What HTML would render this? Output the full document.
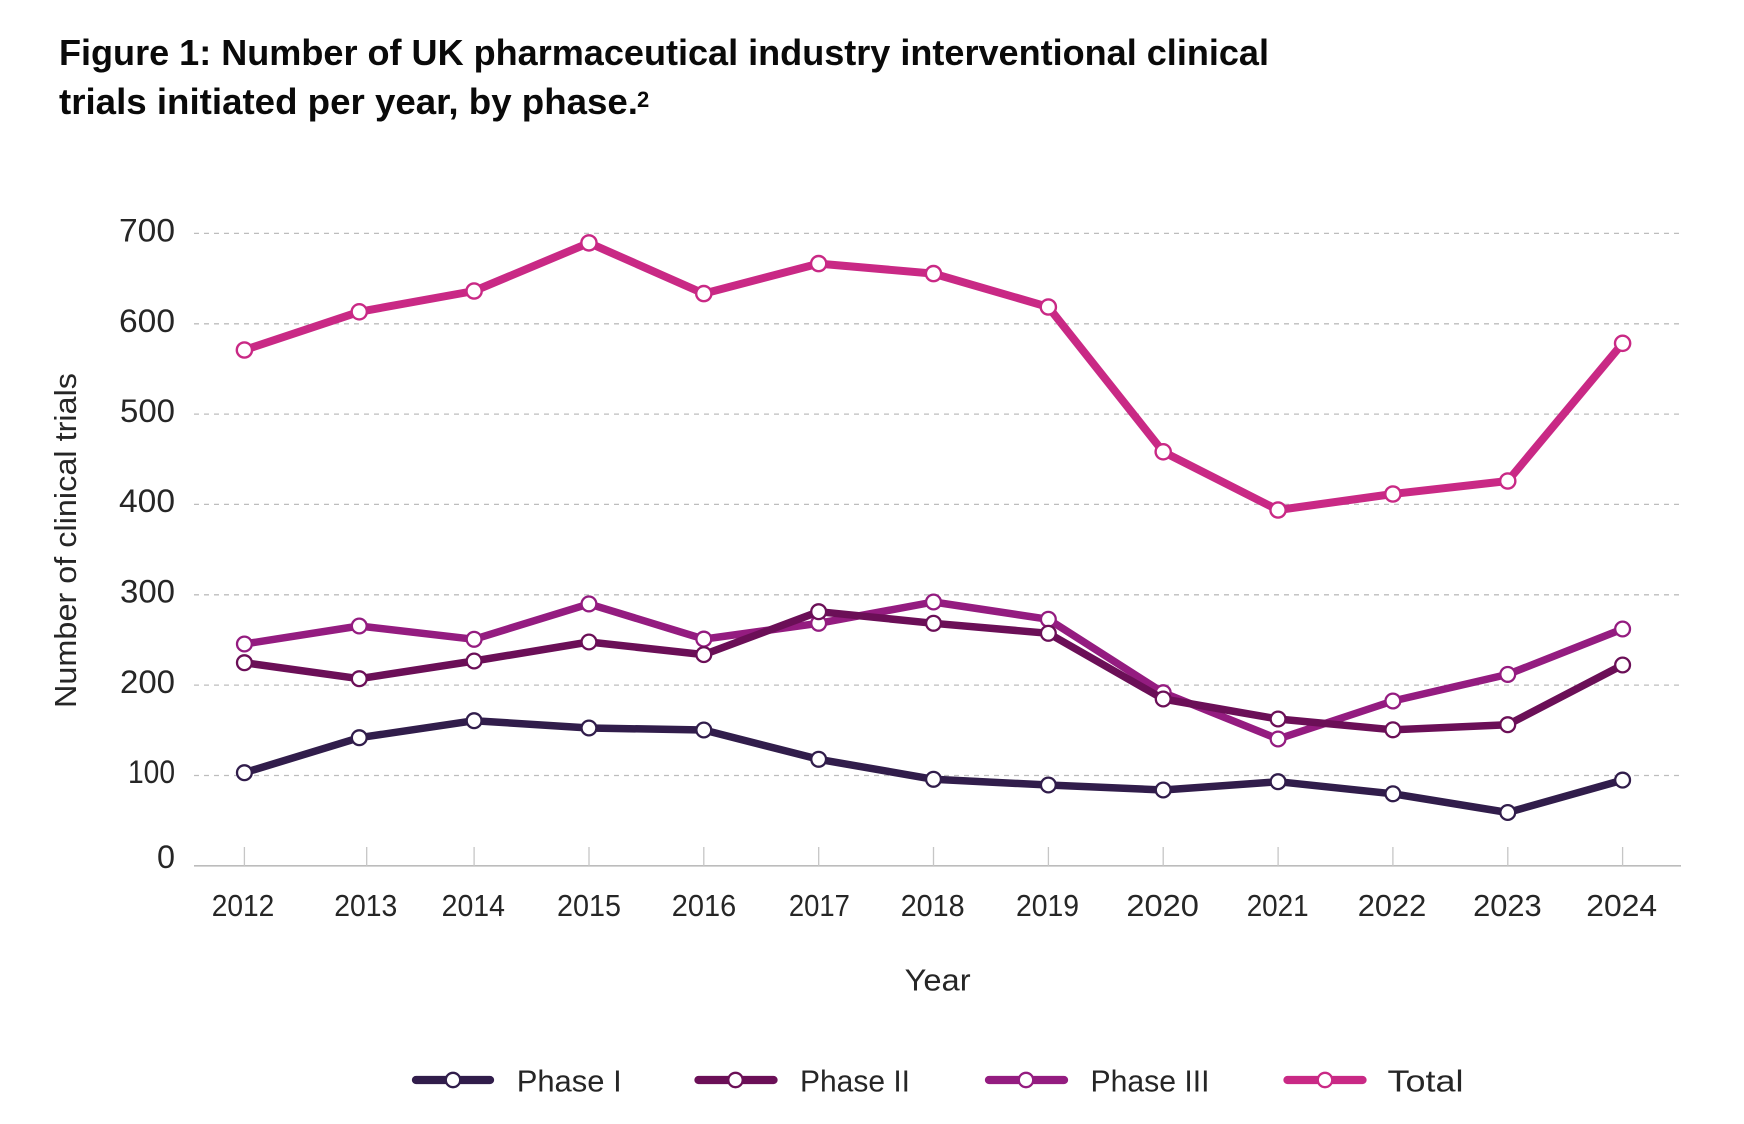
<!DOCTYPE html>
<html>
<head>
<meta charset="utf-8">
<style>
  html, body { margin: 0; padding: 0; background: #ffffff; }
  svg { display: block; }
  .title { font-family: "Liberation Sans", sans-serif; font-weight: bold; fill: #0a0a0a; }
  .lbl { font-family: "Liberation Sans", sans-serif; fill: #262626; }
</style>
</head>
<body>
<svg width="1744" height="1124" viewBox="0 0 1744 1124" xmlns="http://www.w3.org/2000/svg">
  <rect width="1744" height="1124" fill="#ffffff"/>

  <!-- Title -->
  <text class="title" x="59" y="65" font-size="36" textLength="1210" lengthAdjust="spacingAndGlyphs">Figure 1: Number of UK pharmaceutical industry interventional clinical</text>
  <text class="title" x="59" y="114" font-size="36" textLength="579" lengthAdjust="spacingAndGlyphs">trials initiated per year, by phase.</text>
  <text class="title" x="637" y="107" font-size="22">2</text>

  <!-- Gridlines -->
  <g stroke="#bdbdbd" stroke-width="1.3" stroke-dasharray="5 5" fill="none">
    <line x1="194" y1="233.4" x2="1681" y2="233.4"/>
    <line x1="194" y1="323.8" x2="1681" y2="323.8"/>
    <line x1="194" y1="414.1" x2="1681" y2="414.1"/>
    <line x1="194" y1="504.4" x2="1681" y2="504.4"/>
    <line x1="194" y1="594.8" x2="1681" y2="594.8"/>
    <line x1="194" y1="685.1" x2="1681" y2="685.1"/>
    <line x1="194" y1="775.5" x2="1681" y2="775.5"/>
  </g>

  <!-- Axis line and ticks -->
  <line x1="194" y1="865.8" x2="1681" y2="865.8" stroke="#bcbcbc" stroke-width="1.6"/>
  <g stroke="#c6c6c6" stroke-width="1.3">
    <line x1="244.4" y1="847" x2="244.4" y2="866"/>
    <line x1="366.7" y1="847" x2="366.7" y2="866"/>
    <line x1="474.1" y1="847" x2="474.1" y2="866"/>
    <line x1="589" y1="847" x2="589" y2="866"/>
    <line x1="703.8" y1="847" x2="703.8" y2="866"/>
    <line x1="818.7" y1="847" x2="818.7" y2="866"/>
    <line x1="933.5" y1="847" x2="933.5" y2="866"/>
    <line x1="1048.4" y1="847" x2="1048.4" y2="866"/>
    <line x1="1163.2" y1="847" x2="1163.2" y2="866"/>
    <line x1="1278.1" y1="847" x2="1278.1" y2="866"/>
    <line x1="1392.9" y1="847" x2="1392.9" y2="866"/>
    <line x1="1507.8" y1="847" x2="1507.8" y2="866"/>
    <line x1="1622.6" y1="847" x2="1622.6" y2="866"/>
  </g>

  <!-- Y tick labels -->
  <g class="lbl" font-size="32" text-anchor="end">
    <text x="175" y="241.5" textLength="56" lengthAdjust="spacingAndGlyphs">700</text>
    <text x="175" y="331.8" textLength="56" lengthAdjust="spacingAndGlyphs">600</text>
    <text x="175" y="421.8" textLength="55" lengthAdjust="spacingAndGlyphs">500</text>
    <text x="175" y="512.2" textLength="56" lengthAdjust="spacingAndGlyphs">400</text>
    <text x="175" y="602.5" textLength="55" lengthAdjust="spacingAndGlyphs">300</text>
    <text x="175" y="692.8" textLength="55" lengthAdjust="spacingAndGlyphs">200</text>
    <text x="175" y="783" textLength="47" lengthAdjust="spacingAndGlyphs">100</text>
    <text x="175" y="868" textLength="18" lengthAdjust="spacingAndGlyphs">0</text>
  </g>

  <!-- Y axis title -->
  <text class="lbl" font-size="31" text-anchor="middle" transform="translate(76,540.5) rotate(-90)" textLength="335" lengthAdjust="spacingAndGlyphs">Number of clinical trials</text>

  <!-- X tick labels -->
  <g class="lbl" font-size="31" text-anchor="middle">
    <text x="243" y="916" textLength="62.6" lengthAdjust="spacingAndGlyphs">2012</text>
    <text x="365.8" y="916" textLength="63" lengthAdjust="spacingAndGlyphs">2013</text>
    <text x="473.3" y="916" textLength="63.3" lengthAdjust="spacingAndGlyphs">2014</text>
    <text x="589" y="916" textLength="64" lengthAdjust="spacingAndGlyphs">2015</text>
    <text x="704" y="916" textLength="64.4" lengthAdjust="spacingAndGlyphs">2016</text>
    <text x="819.4" y="916" textLength="61" lengthAdjust="spacingAndGlyphs">2017</text>
    <text x="932.7" y="916" textLength="64" lengthAdjust="spacingAndGlyphs">2018</text>
    <text x="1047.5" y="916" textLength="63" lengthAdjust="spacingAndGlyphs">2019</text>
    <text x="1162.6" y="916" textLength="72.5" lengthAdjust="spacingAndGlyphs">2020</text>
    <text x="1277.7" y="916" textLength="62" lengthAdjust="spacingAndGlyphs">2021</text>
    <text x="1392" y="916" textLength="68.6" lengthAdjust="spacingAndGlyphs">2022</text>
    <text x="1507.4" y="916" textLength="68.6" lengthAdjust="spacingAndGlyphs">2023</text>
    <text x="1621.7" y="916" textLength="70.8" lengthAdjust="spacingAndGlyphs">2024</text>
  </g>

  <!-- X axis title -->
  <text class="lbl" x="904.6" y="990.7" font-size="31" textLength="66" lengthAdjust="spacingAndGlyphs">Year</text>

  <!-- Series: Phase I -->
  <g>
    <polyline fill="none" stroke="#311d4b" stroke-width="7.5" stroke-linejoin="round" stroke-linecap="round"
      points="244.4,772.7 359.25,737.7 474.1,720.7 588.95,728 703.8,730 818.65,759.3 933.5,779.3 1048.35,785 1163.2,790 1278.05,781.7 1392.9,793.8 1507.75,812.5 1622.6,780.1"/>
    <g fill="#ffffff" stroke="#311d4b" stroke-width="2.3">
      <circle cx="244.4" cy="772.7" r="7.4"/>
      <circle cx="359.25" cy="737.7" r="7.4"/>
      <circle cx="474.1" cy="720.7" r="7.4"/>
      <circle cx="588.95" cy="728" r="7.4"/>
      <circle cx="703.8" cy="730" r="7.4"/>
      <circle cx="818.65" cy="759.3" r="7.4"/>
      <circle cx="933.5" cy="779.3" r="7.4"/>
      <circle cx="1048.35" cy="785" r="7.4"/>
      <circle cx="1163.2" cy="790" r="7.4"/>
      <circle cx="1278.05" cy="781.7" r="7.4"/>
      <circle cx="1392.9" cy="793.8" r="7.4"/>
      <circle cx="1507.75" cy="812.5" r="7.4"/>
      <circle cx="1622.6" cy="780.1" r="7.4"/>
    </g>
  </g>

  <!-- Series: Phase III (drawn below Phase II) -->
  <g>
    <polyline fill="none" stroke="#941c80" stroke-width="7.5" stroke-linejoin="round" stroke-linecap="round"
      points="244.4,644 359.25,626 474.1,639.3 588.95,603.9 703.8,639.1 818.65,623.3 933.5,602 1048.35,619.3 1163.2,692.7 1278.05,739 1392.9,701 1507.75,674.4 1622.6,629"/>
    <g fill="#ffffff" stroke="#941c80" stroke-width="2.3">
      <circle cx="244.4" cy="644" r="7.4"/>
      <circle cx="359.25" cy="626" r="7.4"/>
      <circle cx="474.1" cy="639.3" r="7.4"/>
      <circle cx="588.95" cy="603.9" r="7.4"/>
      <circle cx="703.8" cy="639.1" r="7.4"/>
      <circle cx="818.65" cy="623.3" r="7.4"/>
      <circle cx="933.5" cy="602" r="7.4"/>
      <circle cx="1048.35" cy="619.3" r="7.4"/>
      <circle cx="1163.2" cy="692.7" r="7.4"/>
      <circle cx="1278.05" cy="739" r="7.4"/>
      <circle cx="1392.9" cy="701" r="7.4"/>
      <circle cx="1507.75" cy="674.4" r="7.4"/>
      <circle cx="1622.6" cy="629" r="7.4"/>
    </g>
  </g>

  <!-- Series: Phase II -->
  <g>
    <polyline fill="none" stroke="#6b0f57" stroke-width="7.5" stroke-linejoin="round" stroke-linecap="round"
      points="244.4,662.7 359.25,678.7 474.1,661 588.95,642 703.8,654.6 818.65,611.7 933.5,623.3 1048.35,633.3 1163.2,699 1278.05,719 1392.9,729.8 1507.75,724.7 1622.6,665"/>
    <g fill="#ffffff" stroke="#6b0f57" stroke-width="2.3">
      <circle cx="244.4" cy="662.7" r="7.4"/>
      <circle cx="359.25" cy="678.7" r="7.4"/>
      <circle cx="474.1" cy="661" r="7.4"/>
      <circle cx="588.95" cy="642" r="7.4"/>
      <circle cx="703.8" cy="654.6" r="7.4"/>
      <circle cx="818.65" cy="611.7" r="7.4"/>
      <circle cx="933.5" cy="623.3" r="7.4"/>
      <circle cx="1048.35" cy="633.3" r="7.4"/>
      <circle cx="1163.2" cy="699" r="7.4"/>
      <circle cx="1278.05" cy="719" r="7.4"/>
      <circle cx="1392.9" cy="729.8" r="7.4"/>
      <circle cx="1507.75" cy="724.7" r="7.4"/>
      <circle cx="1622.6" cy="665" r="7.4"/>
    </g>
  </g>

  <!-- Series: Total -->
  <g>
    <polyline fill="none" stroke="#c92985" stroke-width="8" stroke-linejoin="round" stroke-linecap="round"
      points="244.4,350 359.25,311.8 474.1,291 588.95,242.9 703.8,293.6 818.65,263.6 933.5,273.6 1048.35,307 1163.2,451.8 1278.05,510 1392.9,494 1507.75,481 1622.6,343.3"/>
    <g fill="#ffffff" stroke="#c92985" stroke-width="2.4">
      <circle cx="244.4" cy="350" r="7.6"/>
      <circle cx="359.25" cy="311.8" r="7.6"/>
      <circle cx="474.1" cy="291" r="7.6"/>
      <circle cx="588.95" cy="242.9" r="7.6"/>
      <circle cx="703.8" cy="293.6" r="7.6"/>
      <circle cx="818.65" cy="263.6" r="7.6"/>
      <circle cx="933.5" cy="273.6" r="7.6"/>
      <circle cx="1048.35" cy="307" r="7.6"/>
      <circle cx="1163.2" cy="451.8" r="7.6"/>
      <circle cx="1278.05" cy="510" r="7.6"/>
      <circle cx="1392.9" cy="494" r="7.6"/>
      <circle cx="1507.75" cy="481" r="7.6"/>
      <circle cx="1622.6" cy="343.3" r="7.6"/>
    </g>
  </g>

  <!-- Legend -->
  <g stroke-linecap="round" stroke-width="8.3" fill="none">
    <line x1="416" y1="1080" x2="490" y2="1080" stroke="#311d4b"/>
    <line x1="698.5" y1="1080" x2="773.5" y2="1080" stroke="#6b0f57"/>
    <line x1="989" y1="1080" x2="1064" y2="1080" stroke="#941c80"/>
    <line x1="1287.5" y1="1080" x2="1362.5" y2="1080" stroke="#c92985"/>
  </g>
  <g fill="#ffffff" stroke-width="2.3">
    <circle cx="453" cy="1080" r="7.2" stroke="#311d4b"/>
    <circle cx="735.5" cy="1080" r="7.2" stroke="#6b0f57"/>
    <circle cx="1026" cy="1080" r="7.2" stroke="#941c80"/>
    <circle cx="1325" cy="1080" r="7.2" stroke="#c92985"/>
  </g>
  <g class="lbl" font-size="31">
    <text x="516.7" y="1091.7" textLength="105" lengthAdjust="spacingAndGlyphs">Phase I</text>
    <text x="800" y="1091.7" textLength="110" lengthAdjust="spacingAndGlyphs">Phase II</text>
    <text x="1090.5" y="1091.7" textLength="119" lengthAdjust="spacingAndGlyphs">Phase III</text>
    <text x="1387.5" y="1091.7" textLength="76" lengthAdjust="spacingAndGlyphs">Total</text>
  </g>
</svg>
</body>
</html>
